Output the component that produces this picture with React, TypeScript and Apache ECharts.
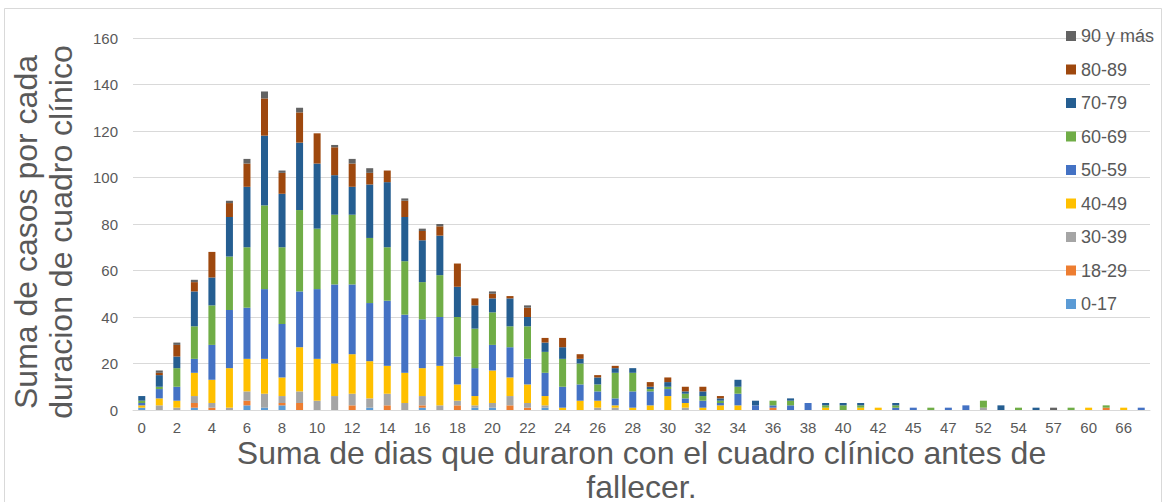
import React, { useEffect, useRef } from "react";
import * as echarts from "echarts";

const categories = [
  "0","1","2","3","4","5","6","7","8","9","10","11","12","13","14","15","16","17","18","19",
  "20","21","22","23","24","25","26","27","28","29","30","31","32","33","34","35","36","37","38","39",
  "40","41","42","43","45","46","47","49","52","53","54","56","57","59","60","62","66","69",
];

const seriesNames = ["0-17","18-29","30-39","40-49","50-59","60-69","70-79","80-89","90 y más"];
const seriesColors = ["#5B9BD5","#ED7D31","#A5A5A5","#FFC000","#4472C4","#70AD47","#255E91","#9E480E","#636363"];

const age0_17 = [1,0,0,1,0,0,2,1,2,0, 0,0,0,1,0,0,1,0,0,1, 1,0,0,1,0,0,0,0,0,0, 0,0,0,0,0,0,0,0,0,0, 0,0,0,0,0,0,0,0,0,0, 0,0,0,0,0,0,0,0];
const age18_29 = [0,0,0,2,1,0,2,0,1,3, 0,0,2,0,2,0,1,0,2,0, 0,2,1,0,0,0,0,0,0,0, 0,0,0,0,0,0,1,0,0,0, 0,0,0,0,0,0,0,0,0,0, 0,0,0,0,0,1,0,0];
const age30_39 = [0,2,1,3,2,1,4,6,3,5, 4,6,5,4,5,3,4,2,2,1, 2,4,2,1,0,0,1,1,0,0, 0,1,0,0,0,0,0,0,0,0, 0,0,0,0,0,0,0,0,1,0, 0,0,0,0,0,0,0,0];
const age40_49 = [1,3,3,10,10,17,14,15,8,19, 18,14,17,16,12,13,12,17,7,4, 14,8,8,4,1,4,3,1,1,2, 6,2,1,2,2,0,0,0,0,1, 0,1,1,0,0,0,0,0,0,0, 0,0,0,0,1,0,1,0];
const age50_59 = [1,4,6,6,15,25,22,30,23,24, 30,34,30,25,28,25,21,21,12,12, 11,13,11,10,9,7,4,3,7,6, 3,2,3,1,5,2,1,2,3,0, 0,0,0,1,1,0,1,2,0,0, 0,0,0,0,0,0,0,1];
const age60_69 = [1,1,8,14,17,23,26,36,33,35, 26,30,30,28,23,23,16,18,17,17, 14,9,14,9,12,9,3,11,8,1, 1,2,2,1,3,0,2,2,0,1, 2,1,0,1,0,1,0,0,3,0, 1,0,0,1,0,1,0,0];
const age70_79 = [2,5,5,15,12,17,26,30,23,29, 28,17,12,23,28,19,18,17,13,10, 6,12,4,4,5,2,3,2,2,1, 2,1,2,1,3,2,0,1,0,1, 1,1,0,1,0,0,0,0,0,2, 0,1,0,0,0,0,0,0];
const age80_89 = [0,1,5,4,11,6,10,16,9,13, 13,12,10,5,5,7,4,4,10,3, 2,1,4,2,4,2,1,1,0,2, 2,2,2,1,0,0,0,0,0,0, 0,0,0,0,0,0,0,0,0,0, 0,0,0,0,0,0,0,0];
const age90plus = [0,1,1,1,0,1,2,3,1,2, 0,1,2,2,0,1,1,1,0,0, 1,0,1,0,0,0,0,0,0,0, 0,0,0,0,0,0,0,0,0,0, 0,0,0,0,0,0,0,0,0,0, 0,0,1,0,0,0,0,0];

const seriesData = [age0_17, age18_29, age30_39, age40_49, age50_59, age60_69, age70_79, age80_89, age90plus];

const yTicks = { min: 0, max: 160, interval: 20 };

const FONT = "'Liberation Sans', Arial, sans-serif";
const TEXT = "#595959";

export default function App() {
  const ref = useRef<HTMLDivElement>(null);
  useEffect(() => {
    document.documentElement.style.overflow = "hidden";
    document.body.style.margin = "0";
    document.body.style.overflow = "hidden";
    if (!ref.current) return;
    const chart = echarts.init(ref.current, undefined, { renderer: "svg", width: 1166, height: 502 });
    chart.setOption({
      animation: false,
      textStyle: { fontFamily: FONT, color: TEXT },
      grid: { left: 133, right: 16, top: 38, bottom: 92, containLabel: false, outerBoundsMode: "none" },
      graphic: [
        {
          type: "rect",
          shape: { x: 4.5, y: 8.5, width: 1157, height: 510 },
          style: { fill: "none", stroke: "#d9d9d9", lineWidth: 1 },
          silent: true,
        },
      ],
      legend: {
        orient: "vertical",
        left: 1061,
        top: 22,
        itemWidth: 10,
        itemHeight: 10,
        itemGap: 15.5,
        icon: "rect",
        data: [...seriesNames].reverse(),
        textStyle: { fontSize: 18, color: TEXT, fontFamily: FONT, lineHeight: 18 },
      },
      xAxis: {
        type: "category",
        data: categories,
        axisLine: { show: true, lineStyle: { color: "#d9d9d9", width: 1 } },
        axisTick: { show: false },
        axisLabel: { interval: 1, fontSize: 15, lineHeight: 15, color: TEXT, margin: 10, fontFamily: FONT },
        name: "Suma de dias que duraron con el cuadro clínico antes de\nfallecer.",
        nameLocation: "middle",
        nameGap: 26,
        nameMoveOverlap: false,
        nameTextStyle: { fontSize: 32, color: TEXT, fontFamily: FONT, lineHeight: 34 },
      },
      yAxis: {
        type: "value",
        min: yTicks.min,
        max: yTicks.max,
        interval: yTicks.interval,
        axisLine: { show: false },
        axisTick: { show: false },
        splitLine: { lineStyle: { color: "#d9d9d9", width: 1 } },
        axisLabel: { fontSize: 15, color: TEXT, margin: 15, fontFamily: FONT },
        name: "Suma de casos por cada\nduracion de cuadro clínico",
        nameLocation: "middle",
        nameGap: 55,
        nameMoveOverlap: false,
        nameTextStyle: { fontSize: 32, color: TEXT, fontFamily: FONT, lineHeight: 35, padding: [0, 16, 0, 0] },
      },
      series: seriesNames.map((name, i) => ({
        name,
        type: "bar",
        stack: "total",
        barWidth: 7,
        data: seriesData[i],
        itemStyle: { color: seriesColors[i] },
        emphasis: { disabled: true },
      })),
    });
    return () => chart.dispose();
  }, []);
  return (
    <div
      ref={ref}
      style={{ position: "fixed", left: 0, top: 0, width: 1166, height: 502, background: "#fff", overflow: "hidden" }}
    />
  );
}
